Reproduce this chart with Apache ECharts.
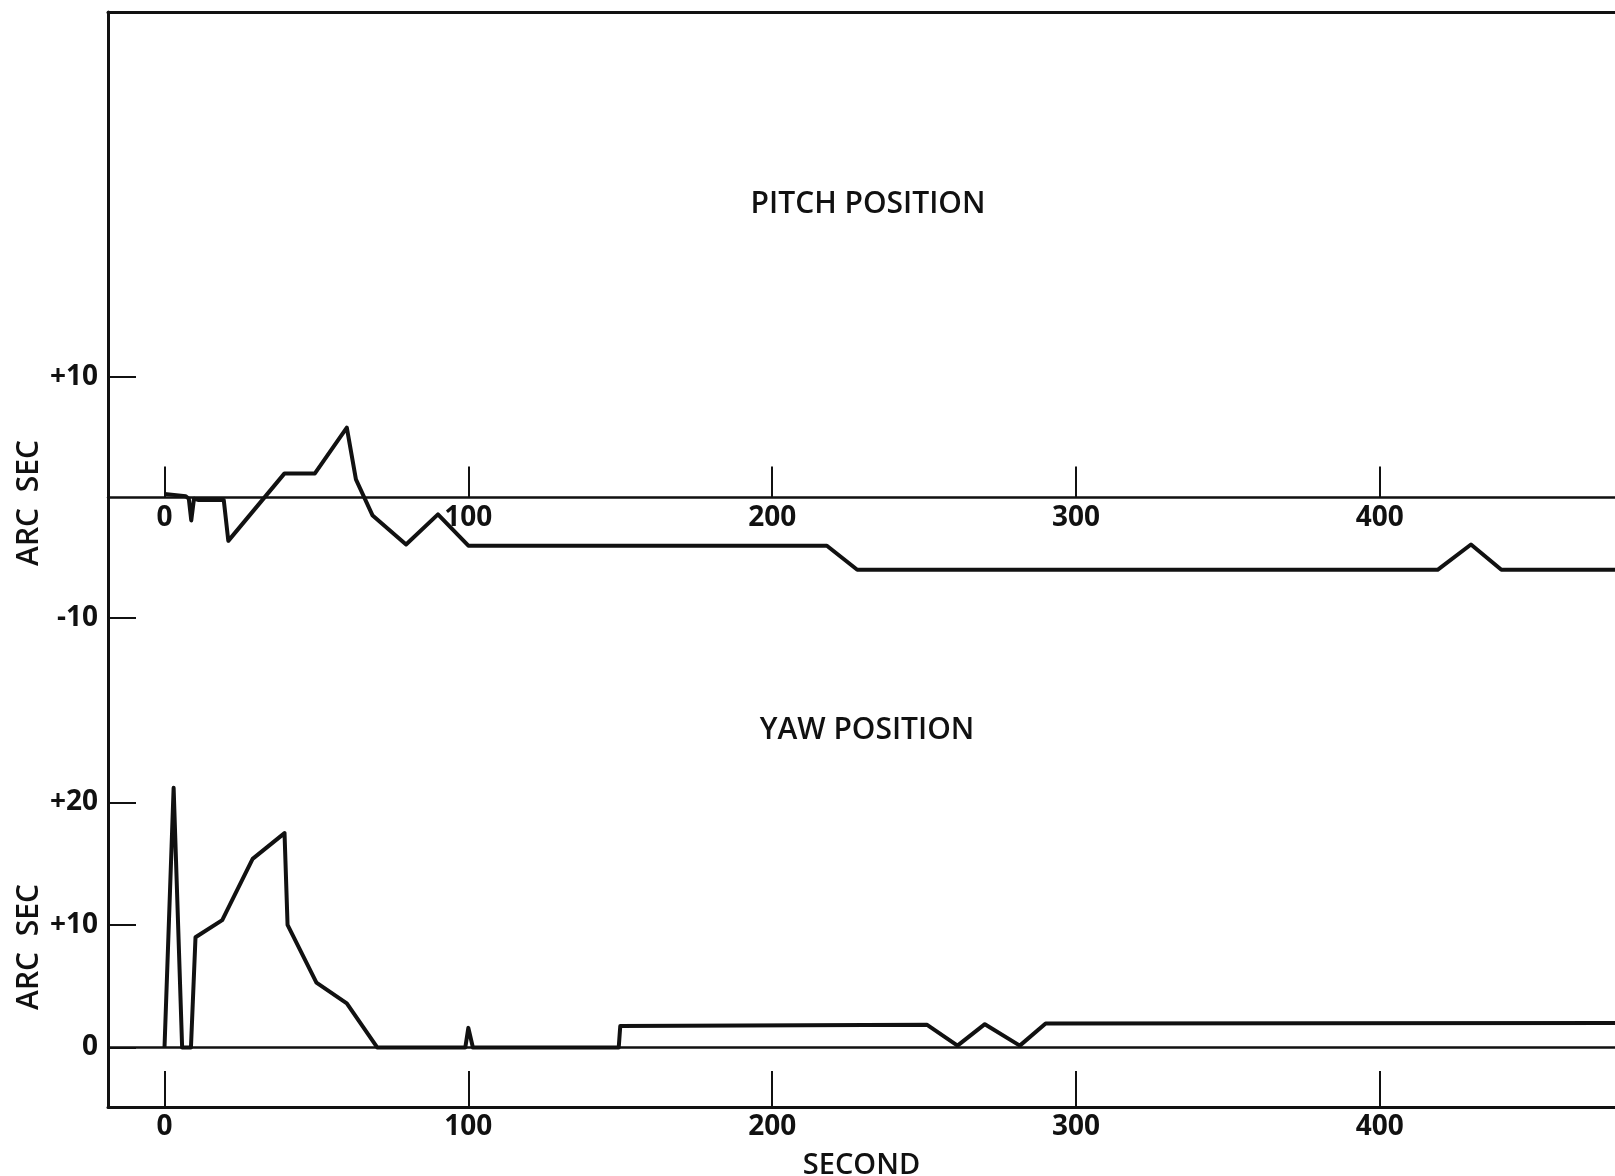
<!DOCTYPE html>
<html>
<head>
<meta charset="utf-8">
<script src="https://cdn.jsdelivr.net/npm/echarts@6/dist/echarts.min.js"></script>
<style>
  html, body { margin: 0; padding: 0; background: #fff; }
  #main { width: 1615px; height: 1176px; }
</style>
</head>
<body>
<div id="main"></div>
<script>
// pitch position (arc sec) against time (second)
var pitchT = [0, 7, 8, 8.8, 9.7, 11, 19.5, 21, 39.5, 49.5, 60, 63, 68.5, 79.5, 90, 100, 218, 228, 419, 430, 440, 478];
var pitchV = [0.3, 0.1, -0.1, -1.9, -0.1, -0.2, -0.2, -3.6, 2.0, 2.0, 5.8, 1.5, -1.5, -3.9, -1.4, -4.0, -4.0, -6.0, -6.0, -3.9, -6.0, -6.0];
// yaw position (arc sec)
var yawT = [0, 3, 5.8, 8.7, 10.2, 19, 29, 39.5, 40.5, 50, 60, 70, 99, 100, 101.5, 149.5, 150, 251, 261, 270, 281.5, 290, 478];
var yawV = [0, 21.2, 0, 0, 9, 10.4, 15.4, 17.5, 10, 5.3, 3.6, 0, 0, 1.6, 0, 0, 1.75, 1.85, 0.15, 1.9, 0.15, 1.95, 2.0];

var xTicks = [0, 100, 200, 300, 400];
var pitchUpTicks = [10];
var pitchDownTicks = [-10];
var yawTicks = [0, 10, 20];

var ink = '#111';
var labelFont = { color: ink, fontFamily: '"Open Sans", sans-serif', fontWeight: 'bold', fontSize: 28 };
var textFont = '600 30px "Open Sans", Lato, sans-serif';

function pairs(t, v) {
  return t.map(function (x, i) { return [x, v[i]]; });
}
function signed(v) {
  return v > 0 ? '+' + v : String(v);
}

var xRange = { type: 'value', min: -18.6, max: 477.4, splitLine: { show: false } };

var charts = echarts.init(document.getElementById('main'));
charts.setOption({
  backgroundColor: '#fff',
  animation: false,
  grid: [
    // pitch, upper half down to its zero line
    { left: 108, right: 0, top: 12, bottom: 678.5, outerBoundsMode: 'none' },
    // pitch, below zero down to -10
    { left: 108, right: 0, top: 497.5, bottom: 558, outerBoundsMode: 'none' },
    // yaw
    { left: 108, right: 0, top: 618, bottom: 69, outerBoundsMode: 'none' }
  ],
  xAxis: [
    Object.assign({}, xRange, {
      gridIndex: 0, position: 'bottom',
      axisLine: { onZero: false, lineStyle: { color: ink, width: 2.5 } },
      axisTick: { customValues: xTicks, inside: true, length: 31, lineStyle: { color: ink, width: 2 } },
      axisLabel: Object.assign({ customValues: xTicks, margin: 7 }, labelFont)
    }),
    Object.assign({}, xRange, {
      gridIndex: 0, position: 'top',
      axisLine: { onZero: false, lineStyle: { color: ink, width: 3 } },
      axisTick: { show: false }, axisLabel: { show: false }
    }),
    Object.assign({}, xRange, {
      gridIndex: 1, show: false
    }),
    Object.assign({}, xRange, {
      gridIndex: 2, position: 'bottom',
      name: 'SECOND', nameLocation: 'middle', nameGap: 44,
      nameTextStyle: { color: ink, fontFamily: '"Open Sans", Lato, sans-serif', fontWeight: 600, fontSize: 29 },
      axisLine: { onZero: false, lineStyle: { color: ink, width: 3 } },
      axisTick: { customValues: xTicks, inside: true, length: 36, lineStyle: { color: ink, width: 2 } },
      axisLabel: Object.assign({ customValues: xTicks, margin: 6 }, labelFont)
    })
  ],
  yAxis: [
    {
      gridIndex: 0, type: 'value', min: 0, max: 40.29,
      axisLine: { show: true, onZero: false, lineStyle: { color: ink, width: 3 } },
      axisTick: { customValues: pitchUpTicks, inside: true, length: 28, lineStyle: { color: ink, width: 2 } },
      axisLabel: Object.assign({ customValues: pitchUpTicks, margin: 10, formatter: signed }, labelFont),
      splitLine: { show: false }
    },
    {
      gridIndex: 1, type: 'value', min: -10, max: 0,
      axisLine: { show: true, onZero: false, lineStyle: { color: ink, width: 3 } },
      axisTick: { customValues: pitchDownTicks, inside: true, length: 28, lineStyle: { color: ink, width: 2 } },
      axisLabel: Object.assign({ customValues: pitchDownTicks, margin: 10, formatter: signed }, labelFont),
      splitLine: { show: false }
    },
    {
      gridIndex: 2, type: 'value', min: -4.86, max: 35.06,
      axisLine: { show: true, onZero: false, lineStyle: { color: ink, width: 3 } },
      axisTick: { customValues: yawTicks, inside: true, length: 28, lineStyle: { color: ink, width: 2 } },
      axisLabel: Object.assign({ customValues: yawTicks, margin: 10, formatter: signed }, labelFont),
      splitLine: { show: false }
    }
  ],
  series: [
    {
      name: 'PITCH POSITION', type: 'line', xAxisIndex: 0, yAxisIndex: 0,
      data: pairs(pitchT, pitchV),
      clip: false, showSymbol: false, symbol: 'none',
      lineStyle: { color: ink, width: 4, join: 'round' }
    },
    {
      name: 'YAW POSITION', type: 'line', xAxisIndex: 3, yAxisIndex: 2,
      data: pairs(yawT, yawV),
      showSymbol: false, symbol: 'none',
      lineStyle: { color: ink, width: 4, join: 'round' },
      markLine: {
        silent: true, symbol: 'none', label: { show: false },
        lineStyle: { color: ink, width: 2.5, type: 'solid' },
        data: [{ yAxis: 0 }]
      }
    }
  ],
  graphic: [
    { type: 'text', x: 868, y: 204, style: { text: 'PITCH POSITION', font: textFont, fill: ink, textAlign: 'center', textVerticalAlign: 'middle' } },
    { type: 'text', x: 867, y: 730, style: { text: 'YAW POSITION', font: textFont, fill: ink, textAlign: 'center', textVerticalAlign: 'middle' } },
    { type: 'text', x: 29, y: 503, rotation: Math.PI / 2, style: { text: 'ARC  SEC', font: textFont, fill: ink, textAlign: 'center', textVerticalAlign: 'middle' } },
    { type: 'text', x: 29, y: 947, rotation: Math.PI / 2, style: { text: 'ARC  SEC', font: textFont, fill: ink, textAlign: 'center', textVerticalAlign: 'middle' } }
  ]
});
</script>
</body>
</html>
